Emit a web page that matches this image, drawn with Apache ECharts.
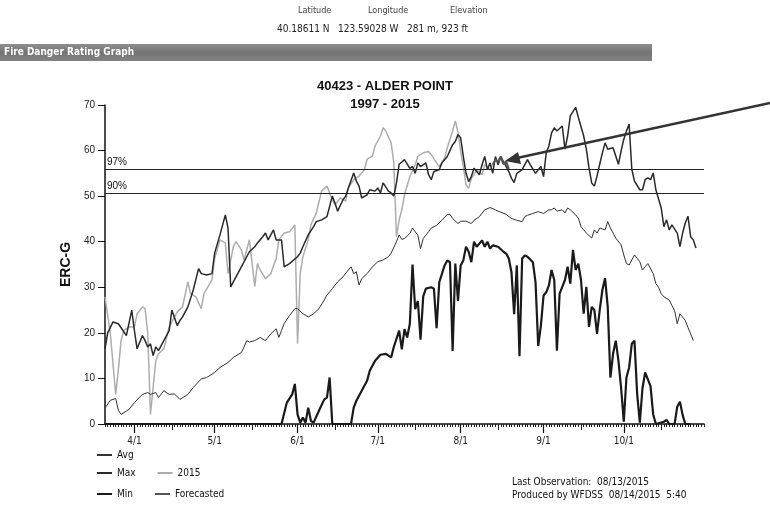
<!DOCTYPE html>
<html><head><meta charset="utf-8">
<script src="https://cdn.jsdelivr.net/npm/echarts@6/dist/echarts.min.js"></script>
<style>html,body{margin:0;padding:0;background:#fff}#c{width:770px;height:505px}</style>
</head><body><div id="c"></div>
<script>
// ---- axis categories: daily, 3/21 .. 10/31 ----
const startMonth = 3, startDay = 21, dayCount = 225;
const monthLengths = [31,28,31,30,31,30,31,31,30,31,30,31];
const categories = [];
(function(){ let m = startMonth, d = startDay;
  for (let i = 0; i < dayCount; i++) { categories.push(m + '/' + d); d++; if (d > monthLengths[m-1]) { d = 1; m++; } } })();
const yTicks = [0, 10, 20, 30, 40, 50, 60, 70];

// ---- thresholds ----
const pct97 = 55.8, pct90 = 50.6;

// ---- series values: [day index from 3/21, ERC-G] ----
const avgPts = [[0,3.5],[2,5.2],[4,5.6],[5,3],[6,2.1],[9,3.2],[11,4.7],[14,6.5],[16,6.9],[17,6.5],[19,6.9],[20,5.8],[22,7.3],[24,6.5],[26,6.6],[28,5.4],[31,6.5],[33,8],[36,9.9],[38,10.2],[41,11.3],[43,12.4],[46,13.5],[48,14.6],[51,15.7],[52,16.9],[53,18.3],[54,18],[56,18.3],[58,19],[60,18.3],[62,19.8],[64,20.9],[65,19],[66,20.5],[67,22],[69,23.8],[71,25.3],[72,25.3],[74,24.2],[76,23.5],[78,24.2],[80,25.3],[82,27.2],[83,28.3],[85,29.7],[87,31.2],[89,32.3],[91,33.8],[92,34.5],[93,33],[94,33.4],[95,30.5],[96,31.9],[98,33],[100,34.5],[102,35.6],[104,36],[106,36.7],[107,37.5],[109,40],[110,41.5],[111,40.5],[112,40.7],[114,41.8],[115,43],[116,42.2],[117,41.4],[118,38.5],[119,40.7],[121,42.2],[122,43],[124,43.6],[126,44.7],[128,46],[129,46],[130,45.1],[132,44],[133,44.5],[135,44.5],[137,44],[138,44.7],[140,45.5],[142,47],[144,47.5],[146,47],[147,46.7],[150,46],[152,45.1],[154,44.7],[156,44.4],[157,45.5],[158,45.8],[160,46.2],[162,46.6],[164,46.2],[166,47],[167,47],[168,47.4],[169,46.7],[171,47],[172,46.3],[173,47.4],[174,47],[176,45.9],[177,45.2],[178,43.3],[179,42.6],[180,41.9],[182,40.8],[183,42.6],[184,41.9],[185,43],[187,42.6],[188,44.4],[189,43],[190,41.9],[191,40.8],[193,39.3],[194,37.1],[195,35.2],[196,34.9],[197,36],[198,37.1],[200,35.6],[201,33.8],[202,34.5],[203,35.2],[205,33],[206,30.8],[207,30],[208,28.6],[209,27.9],[211,27.2],[212,26],[213,24.9],[214,22],[215,24.2],[217,22.7],[218,21.2],[219,19.8],[220,18.3]];

const maxPts = [[0,16.5],[1,20],[3,22.4],[5,22],[8,19.4],[10,25],[11,20.5],[12,16.5],[14,19.4],[15,18.3],[16,16.9],[17,17.6],[18,15],[19,16.9],[20,16.1],[22,18.3],[24,20.5],[25,25],[27,21.6],[28,22.7],[29,23.5],[31,25.7],[33,29.4],[35,34.1],[36,33],[38,32.7],[40,33],[41,37.5],[43,41.5],[45,45.9],[46,43],[47,30.1],[49,32.3],[51,34.5],[53,36.7],[54,37.8],[56,38.9],[57,39.7],[59,41.1],[60,41.9],[61,40.4],[63,42.6],[64,40.4],[66,40.4],[67,34.5],[69,35.2],[72,36.7],[73,37.5],[74,38.9],[76,41.5],[78,43.3],[79,44.4],[81,44.8],[83,45.5],[85,50],[86,48.5],[87,46.7],[89,49.2],[90,50],[91,51.8],[93,55.1],[94,53.3],[95,52.2],[96,49.6],[98,50.3],[99,51.4],[101,51.1],[102,51.8],[103,50.7],[104,52.9],[106,51.1],[107,50.7],[108,50],[109,52.9],[110,57],[111,57.5],[112,58],[114,56.1],[115,56.5],[116,55],[117,57.3],[118,56.5],[120,57.3],[121,54.7],[122,53.6],[123,55.4],[125,55.8],[126,57.3],[127,58],[128,58.7],[130,61.3],[131,62],[132,63.5],[133,62.8],[134,58.7],[135,55],[136,53.2],[137,54.3],[138,56.1],[140,54.7],[141,56.9],[142,58.7],[143,55.8],[144,57.3],[145,55],[146,58.7],[147,56.9],[148,58.7],[149,57.6],[151,55.4],[152,53.9],[153,53],[154,55],[156,55.8],[157,56.9],[158,58],[159,56.9],[161,55],[162,55.8],[163,56.5],[164,54.3],[165,59.5],[166,61],[167,63.9],[168,65],[169,64.3],[171,65.4],[172,60.3],[173,63.2],[174,67.6],[176,69.5],[177,67.3],[179,63.2],[180,60.3],[181,56.2],[182,52.9],[183,52.2],[184,54.4],[185,57],[186,59.5],[187,61.7],[188,60.3],[190,60.6],[191,58.8],[192,57],[193,59.9],[194,62.5],[195,64.3],[196,65.8],[197,55.9],[198,53.3],[200,51.4],[201,51.4],[202,53.6],[203,54],[204,53.6],[205,55.1],[206,51.4],[208,47.4],[209,43.3],[210,44.8],[211,42.6],[212,43.7],[214,41.9],[215,38.9],[216,41.9],[217,44.1],[218,45.6],[219,41.1],[220,40.4],[221,38.6]];

const minPts = [[0,0],[66,0],[68,4.7],[70,6.5],[71,8.8],[72,2.1],[73,0.3],[74,1.4],[75,0.3],[76,3.6],[77,0.7],[78,0.3],[80,2.9],[82,5.4],[83,5.8],[84,10.2],[85,0],[92,0],[93,3.6],[94,5.1],[96,7.3],[98,9.5],[99,11.7],[101,13.9],[103,15.2],[105,15.4],[107,14.6],[108,16.9],[110,20.5],[111,16.4],[112,20.8],[113,19],[114,22],[115,35],[116,25.2],[117,27],[118,18.5],[119,28],[120,29.7],[122,30],[123,29.7],[124,21],[125,31.1],[127,34.8],[128,35.9],[129,35.5],[130,16],[131,35.2],[132,27],[133,34.8],[134,35.9],[135,38.9],[136,37.8],[137,35.5],[138,40],[139,38.9],[141,40.3],[142,38.9],[143,40],[144,38.5],[145,39.2],[147,38.9],[149,37.8],[150,37.4],[151,36.3],[152,33.3],[153,24.1],[154,34.8],[155,14.9],[156,36.3],[157,37],[158,36.7],[160,35.5],[161,31.1],[162,17.1],[163,21.6],[164,28.2],[165,28.9],[166,30.4],[167,33.8],[168,31.6],[169,16.1],[170,28.6],[171,30.1],[172,31.6],[173,34.5],[174,30.8],[175,38.2],[176,33.8],[177,35.2],[178,31.6],[179,24.2],[180,30.1],[181,21.3],[182,25.7],[183,25],[184,19.8],[185,25],[186,29.4],[187,32],[188,25.7],[189,10.2],[190,15.4],[191,18.3],[192,13.9],[193,7.9],[194,0.5],[195,10.2],[196,12.4],[197,17.6],[198,18.3],[199,6.6],[200,0.3],[201,7.9],[202,11.3],[204,8.3],[205,2.1],[206,0],[209,0.5],[210,0.9],[211,0],[213,0],[214,3.8],[215,4.9],[216,2],[217,0],[219,0]];

const obs2015Pts = [[0,27.9],[2,19.8],[4,6.5],[5,12],[6,18.3],[7,20.5],[9,21.3],[11,21.3],[12,24.2],[14,25.7],[15,25.3],[16,19.8],[17,2.1],[18,8],[19,13.9],[20,15.4],[22,16.5],[24,21.3],[25,22.4],[27,24.6],[29,25.7],[31,31.2],[32,28.6],[34,27.9],[36,25.3],[37,28.6],[40,31.6],[41,36.3],[43,40.4],[45,39.7],[46,33],[48,38.9],[49,40],[51,38.2],[52,36],[54,40.4],[56,30.2],[57,35.2],[58,33.8],[60,31.9],[62,33],[64,36.3],[65,40.4],[67,41.9],[69,42.2],[71,43.7],[72,17.6],[73,33],[74,36.7],[76,40.4],[77,43.7],[79,46.3],[81,51.1],[83,52.2],[85,49.2],[86,48.1],[88,49.6],[90,48.9],[91,51.8],[93,53.6],[95,54.4],[97,55.8],[98,58.1],[100,58.8],[101,61],[103,63.2],[104,65],[105,64.3],[107,61.7],[108,57.3],[109,41.1],[110,44.8],[111,47],[112,50.3],[114,54.3],[116,56.9],[117,58.7],[119,59.5],[121,59.8],[122,59.1],[124,57.3],[125,56.5],[127,58.4],[128,60.6],[130,64.3],[131,66.5],[132,64],[133,59.8],[134,56.5],[135,52.5],[136,51.7],[137,53.9],[138,54.7],[139,55.8],[141,54.7],[142,56.9],[144,55.8],[145,56.9]];

const forecastPts = [[145,56.9],[146,58],[147,57.5],[148,58.7],[149,57],[150,57.6],[151,56]];

const FONT = "'DejaVu Sans Condensed','Liberation Sans Narrow','Liberation Sans',sans-serif";
const ARIAL = "'Liberation Sans',Arial,sans-serif";
const isDay = (v, n) => v.split('/')[1] === String(n);

const chart = echarts.init(document.getElementById('c'), null, {renderer: 'canvas'});
const baseX = {type: 'category', data: categories, boundaryGap: false, gridIndex: 0, position: 'bottom', axisLine: {show: false, onZero: false}};
chart.setOption({
  animation: false,
  backgroundColor: '#fff',
  grid: {left: 105, right: 66, top: 105, bottom: 81},
  xAxis: [
    Object.assign({}, baseX, {
      axisLine: {show: true, onZero: false, lineStyle: {color: '#111', width: 1.5}},
      axisTick: {interval: 0, length: 3, lineStyle: {color: '#222'}},
      axisLabel: {show: false}
    }),
    Object.assign({}, baseX, {
      axisTick: {interval: (i, v) => isDay(v, 15), length: 6, lineStyle: {color: '#222'}},
      axisLabel: {show: false}
    }),
    Object.assign({}, baseX, {
      axisTick: {interval: (i, v) => isDay(v, 1), length: 9, lineStyle: {color: '#111', width: 1.2}},
      axisLabel: {interval: (i, v) => isDay(v, 1), margin: 12, fontSize: 10, color: '#222', fontFamily: FONT}
    })
  ],
  yAxis: {
    type: 'value', min: yTicks[0], max: yTicks[yTicks.length-1], interval: 10,
    name: 'ERC-G', nameLocation: 'middle', nameGap: 27,
    nameTextStyle: {fontSize: 14, fontWeight: 'bold', color: '#111', fontFamily: ARIAL},
    axisLine: {show: true, lineStyle: {color: '#111', width: 1.5}},
    axisTick: {show: true, length: 7, lineStyle: {color: '#111'}},
    axisLabel: {fontSize: 10, color: '#222', margin: 10, fontFamily: ARIAL},
    splitLine: {show: false}
  },
  legend: [
    {data: ['Avg'], left: 92, top: 445},
    {data: ['Max', '2015'], left: 92, top: 463},
    {data: ['Min', 'Forecasted'], left: 92, top: 484}
  ].map(l => Object.assign(l, {
    orient: 'horizontal', icon: 'rect', itemWidth: 15, itemHeight: 2, itemGap: 22, selectedMode: false,
    textStyle: {fontSize: 10, color: '#111', fontFamily: FONT}
  })),
  series: [
    {name: '2015', type: 'line', data: obs2015Pts, showSymbol: false, z: 1,
      lineStyle: {color: '#adadad', width: 1.5}, itemStyle: {color: '#adadad'}},
    {name: 'Avg', type: 'line', data: avgPts, showSymbol: false, z: 2,
      lineStyle: {color: '#333', width: 1}, itemStyle: {color: '#333'},
      markLine: {silent: true, symbol: 'none',
        lineStyle: {color: '#222', width: 1.2, type: 'solid'},
        label: {show: true, position: 'insideStartTop', formatter: '{b}', fontSize: 10, color: '#111', distance: [2, 2], fontFamily: ARIAL},
        data: [{name: '97%', yAxis: pct97}, {name: '90%', yAxis: pct90}]}},
    {name: 'Max', type: 'line', data: maxPts, showSymbol: false, z: 3,
      lineStyle: {color: '#2a2a2a', width: 1.5}, itemStyle: {color: '#2a2a2a'}},
    {name: 'Min', type: 'line', data: minPts, showSymbol: false, z: 3,
      lineStyle: {color: '#1a1a1a', width: 2.2}, itemStyle: {color: '#1a1a1a'}},
    {name: 'Forecasted', type: 'line', data: forecastPts, showSymbol: false, z: 4,
      lineStyle: {color: '#555', width: 2.2}, itemStyle: {color: '#555'}}
  ],
  graphic: [
    {type: 'text', left: 298, top: 6, style: {text: 'Latitude', fill: '#444', font: "9px " + FONT}},
    {type: 'text', left: 368, top: 6, style: {text: 'Longitude', fill: '#444', font: "9px " + FONT}},
    {type: 'text', left: 450, top: 6, style: {text: 'Elevation', fill: '#444', font: "9px " + FONT}},
    {type: 'text', left: 277, top: 24, style: {text: '40.18611 N   123.59028 W   281 m, 923 ft', fill: '#222', font: "10px " + FONT}},
    {type: 'rect', shape: {x: 0, y: 44, width: 652, height: 17},
      style: {fill: new echarts.graphic.LinearGradient(0, 0, 0, 1, [{offset: 0, color: '#8e8e8e'}, {offset: 0.5, color: '#747474'}, {offset: 1, color: '#838383'}])}},
    {type: 'text', left: 4, top: 47, style: {text: 'Fire Danger Rating Graph', fill: '#fff', font: "bold 10px " + FONT}},
    {type: 'text', left: 'center', top: 80, style: {text: '40423 - ALDER POINT', fill: '#111', font: "bold 13px " + ARIAL}},
    {type: 'text', left: 'center', top: 98, style: {text: '1997 - 2015', fill: '#111', font: "bold 13px " + ARIAL}},
    {type: 'text', left: 512, top: 477, style: {text: 'Last Observation:  08/13/2015', fill: '#111', font: "10px " + FONT}},
    {type: 'text', left: 512, top: 490, style: {text: 'Produced by WFDSS  08/14/2015  5:40', fill: '#111', font: "10px " + FONT}},
    {type: 'line', shape: {x1: 770, y1: 103, x2: 517, y2: 158}, style: {stroke: '#333', lineWidth: 2.5}, z: 100},
    {type: 'polygon', shape: {points: [[505, 161], [521, 164], [518, 152]]}, style: {fill: '#333'}, z: 100}
  ]
});
</script>
</body></html>
